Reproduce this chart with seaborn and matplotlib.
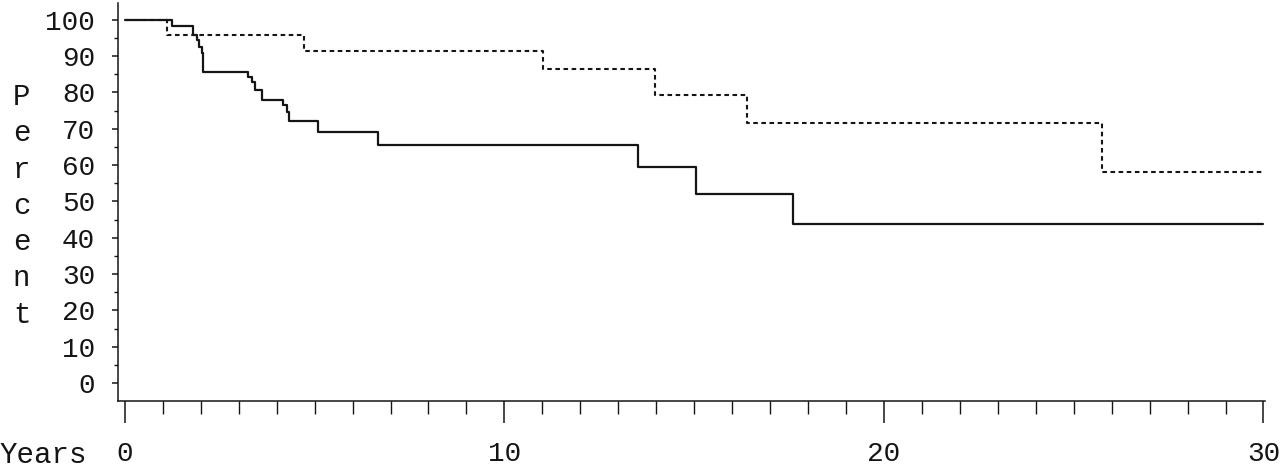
import matplotlib
matplotlib.use("Agg")
import matplotlib.pyplot as plt
from matplotlib.ticker import MultipleLocator
import pandas as pd
import seaborn as sns

# Kaplan-Meier style curves (years, percent)
solid_years = [0, 1.25, 1.80, 1.89, 1.96, 2.02, 2.05, 3.25, 3.34, 3.43, 3.62,
               4.17, 4.26, 4.33, 5.09, 6.68, 13.53, 15.05, 17.61, 30]
solid_pct = [100, 98.2, 95.8, 94.4, 92.6, 90.7, 85.7, 84.3, 82.9, 80.6, 77.9,
             76.5, 74.7, 72.2, 69.0, 65.6, 59.4, 52.1, 43.9, 43.9]

dashed_years = [0, 1.10, 4.72, 11.02, 13.97, 16.38, 25.74, 30]
dashed_pct = [100, 95.8, 91.4, 86.3, 79.4, 71.7, 58.0, 58.0]

x_ticks = [0, 10, 20, 30]
y_ticks = [0, 10, 20, 30, 40, 50, 60, 70, 80, 90, 100]

sns.set_style("ticks")
plt.rcParams["font.family"] = ["Liberation Mono", "DejaVu Sans Mono"]
ink = "#151515"

solid = pd.DataFrame({"Years": solid_years, "Percent": solid_pct})
dashed = pd.DataFrame({"Years": dashed_years, "Percent": dashed_pct})

fig = plt.figure(figsize=(12.8, 4.72), dpi=100)
ax = fig.add_axes([118 / 1280, 1 - 401 / 472, 1147 / 1280, 398 / 472])

sns.lineplot(data=solid, x="Years", y="Percent", ax=ax, color=ink,
             lw=1.6, drawstyle="steps-post", estimator=None, sort=False)
sns.lineplot(data=dashed, x="Years", y="Percent", ax=ax, color=ink,
             lw=1.5, drawstyle="steps-post", estimator=None, sort=False,
             linestyle=(0, (2.2, 1.7)))

ax.set_xlim(-0.18, 30.04)
ax.set_ylim(-4.95, 104.6)
ax.set_xticks(x_ticks)
ax.set_yticks(y_ticks)
ax.xaxis.set_minor_locator(MultipleLocator(1))
ax.yaxis.set_minor_locator(MultipleLocator(5))

sns.despine(ax=ax)
for s in ["left", "bottom"]:
    ax.spines[s].set_linewidth(1.1)
    ax.spines[s].set_color(ink)

ax.tick_params(axis="x", which="major", direction="out", length=16, width=1.1,
               pad=13, labelsize=20, colors=ink)
ax.tick_params(axis="x", which="minor", direction="out", length=9.5, width=1.0,
               colors=ink)
ax.tick_params(axis="y", which="major", direction="out", length=4.5, width=1.1,
               pad=12, labelsize=20, colors=ink)
ax.tick_params(axis="y", which="minor", direction="out", length=3, width=1.0,
               colors=ink)

ax.set_xlabel("Years", fontsize=21, color=ink, ha="left", va="center")
ax.xaxis.set_label_coords(-0.103, -0.136)
ax.set_ylabel("P\ne\nr\nc\ne\nn\nt", fontsize=21, color=ink, rotation=0,
              ha="center", va="center", linespacing=1.375)
ax.yaxis.set_label_coords(-0.084, 0.49)

fig.savefig("out.png", dpi=100)
